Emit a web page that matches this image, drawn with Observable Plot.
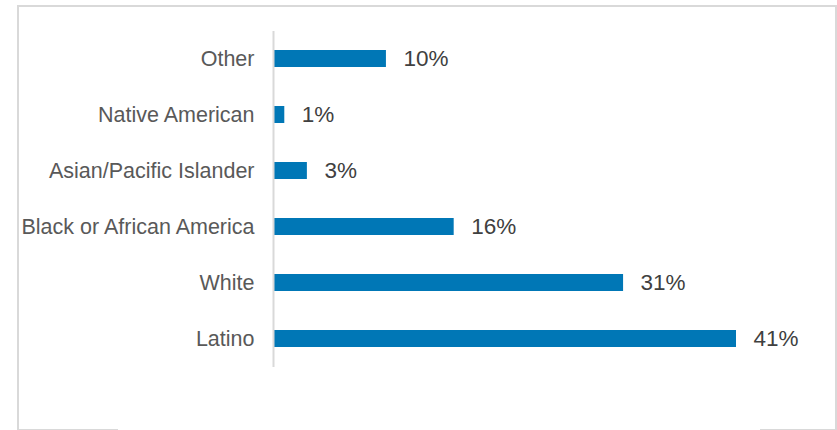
<!DOCTYPE html>
<html>
<head>
<meta charset="utf-8">
<script src="https://cdn.jsdelivr.net/npm/d3@7"></script>
<script src="https://cdn.jsdelivr.net/npm/@observablehq/plot@0.6"></script>
<style>
  html, body { margin: 0; padding: 0; background: #fff; }
  #wrap { position: relative; width: 837px; height: 430px; overflow: hidden; }
  #frame { position: absolute; left: 17px; top: 5px; width: 816px; height: 422px; border: 2px solid #d9d9d9; }
  #gap { position: absolute; left: 118px; top: 425px; width: 642px; height: 5px; background: #fff; }
  #chart { position: absolute; left: 0; top: 0; }
</style>
</head>
<body>
<div id="wrap">
  <div id="frame"></div>
  <div id="gap"></div>
  <div id="chart"></div>
</div>
<script>
const categories = ["Other", "Native American", "Asian/Pacific Islander", "Black or African America", "White", "Latino"];
const values = [10, 1, 3, 16, 31, 41];

const data = categories.map((c, i) => ({category: c, value: values[i]}));

const chart = Plot.plot({
  width: 837,
  height: 430,
  marginTop: 31,
  marginBottom: 63,
  marginLeft: 273,
  marginRight: 101,
  style: {fontFamily: "'Liberation Sans', Arial, sans-serif", background: "transparent", color: "#595959"},
  x: {domain: [0, 41], axis: null},
  y: {domain: categories, paddingInner: 0.69, paddingOuter: 0.345, label: null},
  marks: [
    Plot.barX(data, {x: "value", y: "category", fill: "#0077b6"}),
    Plot.ruleX([0], {stroke: "#d9d9d9", strokeWidth: 2}),
    Plot.axisY({tickSize: 0, tickPadding: 19, fontSize: 21.5, label: null, fill: "#595959"}),
    Plot.text(data, {x: "value", y: "category", text: d => d.value + "%", dx: 17, textAnchor: "start", fontSize: 22.5, fill: "#404040"})
  ]
});
document.getElementById("chart").appendChild(chart);
</script>
</body>
</html>
